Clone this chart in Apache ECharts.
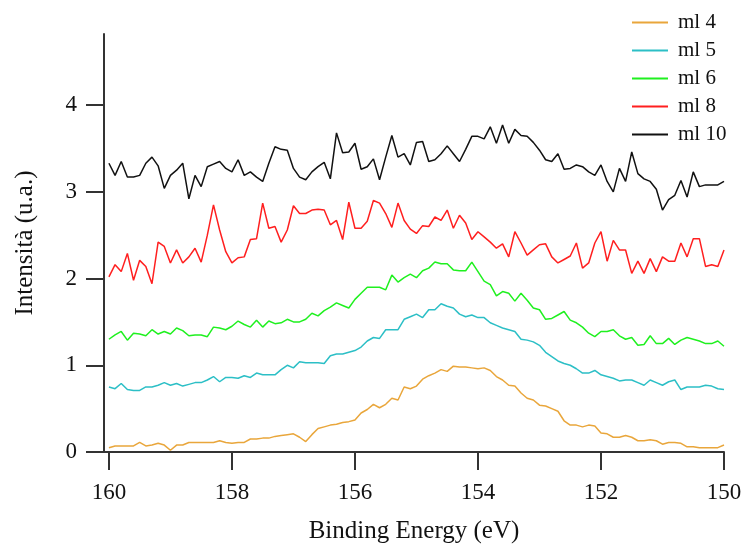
<!DOCTYPE html>
<html>
<head>
<meta charset="utf-8">
<title>XPS</title>
<script src="https://cdn.jsdelivr.net/npm/echarts@6/dist/echarts.min.js"></script>
<style>
html,body{margin:0;padding:0;background:#fff;}
#chart{width:745px;height:549px;}
</style>
</head>
<body>
<div id="chart"></div>
<script>
// binding energy, eV (step 0.1, from 160 down to 150)
var energy=[160.0,159.9,159.8,159.7,159.6,159.5,159.4,159.3,159.2,159.1,
    159.0,158.9,158.8,158.7,158.6,158.5,158.4,158.3,158.2,158.1,
    158.0,157.9,157.8,157.7,157.6,157.5,157.4,157.3,157.2,157.1,
    157.0,156.9,156.8,156.7,156.6,156.5,156.4,156.3,156.2,156.1,
    156.0,155.9,155.8,155.7,155.6,155.5,155.4,155.3,155.2,155.1,
    155.0,154.9,154.8,154.7,154.6,154.5,154.4,154.3,154.2,154.1,
    154.0,153.9,153.8,153.7,153.6,153.5,153.4,153.3,153.2,153.1,
    153.0,152.9,152.8,152.7,152.6,152.5,152.4,152.3,152.2,152.1,
    152.0,151.9,151.8,151.7,151.6,151.5,151.4,151.3,151.2,151.1,
    151.0,150.9,150.8,150.7,150.6,150.5,150.4,150.3,150.2,150.1,150.0];

var ml4=[0.05,0.07,0.07,0.07,0.07,0.11,0.07,0.08,0.10,0.08,0.02,0.08,0.08,0.11,0.11,0.11,0.11,0.11,0.13,0.11,
    0.10,0.11,0.11,0.15,0.15,0.16,0.16,0.18,0.19,0.20,0.21,0.17,0.12,0.20,
    0.27,0.29,0.31,0.32,0.34,0.35,0.37,0.45,0.49,0.55,0.51,0.55,0.62,0.60,0.75,0.73,0.76,0.84,0.88,0.91,
    0.95,0.93,0.99,0.98,0.98,0.97,0.96,0.97,0.94,0.87,0.83,0.77,0.76,
    0.68,0.62,0.60,0.54,0.53,0.50,0.47,0.36,0.31,0.31,0.29,0.31,0.30,0.22,0.21,0.17,0.17,0.19,0.17,0.13,
    0.13,0.14,0.13,0.09,0.11,0.11,0.10,0.06,0.06,0.05,0.05,0.05,0.05,0.08];

var ml5=[0.75,0.73,0.79,0.72,0.71,0.71,0.75,0.75,0.77,0.80,0.77,0.79,0.76,0.78,0.80,0.80,0.83,0.87,0.81,0.86,
    0.86,0.85,0.88,0.86,0.91,0.89,0.89,0.89,0.95,1.00,0.97,1.04,1.03,1.03,
    1.03,1.02,1.11,1.13,1.13,1.15,1.17,1.21,1.28,1.32,1.31,1.41,1.41,1.41,1.53,1.56,1.59,1.55,1.64,1.64,
    1.71,1.68,1.66,1.59,1.56,1.58,1.55,1.55,1.49,1.46,1.43,1.41,1.39,
    1.30,1.29,1.27,1.23,1.15,1.10,1.05,1.02,1.00,0.96,0.91,0.91,0.94,0.89,0.87,0.85,0.82,0.83,0.83,0.80,
    0.77,0.83,0.80,0.77,0.81,0.83,0.72,0.75,0.75,0.75,0.77,0.76,0.73,0.72];

var ml6=[1.30,1.35,1.39,1.29,1.37,1.36,1.34,1.41,1.36,1.39,1.36,1.43,1.40,1.34,1.35,1.35,1.33,1.44,1.43,1.41,
    1.45,1.51,1.47,1.44,1.52,1.44,1.51,1.48,1.49,1.53,1.50,1.50,1.53,1.60,
    1.57,1.63,1.67,1.72,1.69,1.66,1.76,1.83,1.90,1.90,1.90,1.87,2.04,1.96,2.01,2.05,2.01,2.09,2.12,2.19,
    2.17,2.17,2.10,2.09,2.09,2.19,2.08,1.97,1.93,1.80,1.85,1.83,1.74,
    1.83,1.75,1.66,1.64,1.53,1.54,1.58,1.62,1.52,1.49,1.44,1.37,1.33,1.39,1.39,1.41,1.34,1.30,1.32,1.23,
    1.24,1.34,1.25,1.25,1.31,1.24,1.29,1.32,1.30,1.28,1.25,1.25,1.28,1.22];

var ml8=[2.02,2.16,2.08,2.29,1.98,2.21,2.14,1.94,2.42,2.37,2.18,2.33,2.18,2.25,2.35,2.19,2.50,2.85,2.56,2.31,
    2.18,2.24,2.25,2.45,2.46,2.87,2.58,2.60,2.42,2.56,2.84,2.75,2.75,2.79,
    2.80,2.79,2.62,2.67,2.45,2.88,2.58,2.58,2.66,2.90,2.87,2.75,2.59,2.87,2.67,2.57,2.52,2.61,2.60,2.71,
    2.67,2.79,2.58,2.73,2.64,2.45,2.54,2.48,2.42,2.35,2.40,2.25,2.54,
    2.41,2.27,2.33,2.39,2.40,2.25,2.18,2.22,2.26,2.41,2.12,2.18,2.41,2.54,2.20,2.44,2.33,2.33,2.06,2.20,
    2.06,2.23,2.08,2.25,2.20,2.20,2.41,2.25,2.46,2.46,2.14,2.16,2.14,2.33];

var ml10=[3.33,3.19,3.35,3.17,3.17,3.19,3.33,3.40,3.30,3.04,3.19,3.25,3.33,2.92,3.19,3.06,3.29,3.32,3.35,3.27,
    3.23,3.37,3.19,3.23,3.17,3.12,3.33,3.52,3.49,3.48,3.27,3.17,3.14,3.23,
    3.29,3.34,3.15,3.68,3.45,3.46,3.56,3.26,3.29,3.38,3.14,3.40,3.65,3.40,3.44,3.31,3.57,3.58,3.35,3.37,
    3.44,3.53,3.44,3.35,3.49,3.64,3.64,3.61,3.75,3.56,3.77,3.56,3.72,
    3.65,3.64,3.57,3.48,3.37,3.35,3.44,3.26,3.27,3.31,3.29,3.23,3.19,3.31,3.12,3.00,3.27,3.12,3.46,3.21,
    3.15,3.12,3.03,2.79,2.91,2.96,3.13,2.94,3.23,3.06,3.08,3.08,3.08,3.12];

var xTicks=[160,158,156,154,152,150];
var yTicks=[0,1,2,3,4];
var names=['ml 4','ml 5','ml 6','ml 8','ml 10'];
var colors=['#e9a63b','#2cbfc6','#1ff01f','#ff1f1f','#111111'];

function pairs(arr){
    var out=[];
    for(var i=0;i<arr.length;i++){
        out.push([energy[i],arr[i]]);
    }
    return out;
}

var allData=[ml4,ml5,ml6,ml8,ml10];
var seriesList=[];
for(var k=0;k<names.length;k++){
    seriesList.push({
        name:names[k],
        type:'line',
        data:pairs(allData[k]),
        symbol:'none',
        lineStyle:{width:1.5,color:colors[k]},
        itemStyle:{color:colors[k]},
        animation:false
    });
}

var font='"Liberation Serif", "Times New Roman", serif';
var mychart=echarts.init(document.getElementById('chart'));

var option={
    backgroundColor:'#fff',
    textStyle:{fontFamily:font},
    grid:{left:104,right:21,top:34,bottom:97},
    legend:{
        orient:'vertical',
        left:632,
        top:12,
        padding:0,
        icon:'rect',
        itemWidth:36,
        itemHeight:2,
        itemGap:7,
        data:names,
        textStyle:{fontFamily:font,fontSize:21,color:'#111',padding:[0,0,0,5]}
    },
    xAxis:{
        type:'value',
        inverse:true,
        min:150,
        max:160.08,
        name:'Binding Energy (eV)',
        nameLocation:'middle',
        nameGap:67,
        nameTextStyle:{fontFamily:font,fontSize:25,color:'#111'},
        axisLine:{onZero:false,lineStyle:{color:'#333',width:2}},
        axisTick:{inside:false,length:18,customValues:xTicks,lineStyle:{color:'#333',width:2}},
        axisLabel:{customValues:xTicks,margin:29,fontSize:23,color:'#111',fontFamily:font},
        splitLine:{show:false}
    },
    yAxis:{
        type:'value',
        min:0,
        max:4.82,
        name:'Intensità (u.a.)',
        nameLocation:'middle',
        nameGap:66,
        nameTextStyle:{fontFamily:font,fontSize:25,color:'#111'},
        axisLine:{show:true,lineStyle:{color:'#333',width:2}},
        axisTick:{show:true,length:18,customValues:yTicks,lineStyle:{color:'#333',width:2}},
        axisLabel:{customValues:yTicks,margin:27,fontSize:23,color:'#111',fontFamily:font},
        splitLine:{show:false}
    },
    series:seriesList
};

mychart.setOption(option);
</script>
</body>
</html>
